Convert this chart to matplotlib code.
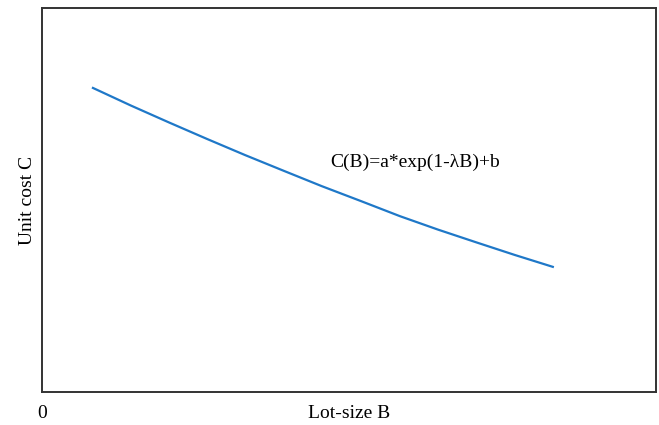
import matplotlib.pyplot as plt

# puntos (unidades arbitrarias, ejes 0..10)
lot_size = [0.83, 1.45, 2.07, 2.69, 3.31, 3.94, 4.56, 5.20, 5.83, 6.45, 7.07, 7.70, 8.32]
unit_cost = [7.92, 7.46, 7.02, 6.59, 6.17, 5.76, 5.36, 4.97, 4.58, 4.23, 3.90, 3.57, 3.26]

plt.rcParams['font.family'] = ['Liberation Serif', 'DejaVu Serif']

fig = plt.figure(figsize=(6.59, 4.25), dpi=100)
ax = fig.add_axes([0.0637, 0.0776, 0.9317, 0.9034])

ax.plot(lot_size, unit_cost, color='#1f78c8', linewidth=1.6)

ax.set_xlim(0, 10)
ax.set_ylim(0, 10)
ax.set_xticks([])
ax.set_yticks([])
for s in ax.spines.values():
    s.set_color('#333333')
    s.set_linewidth(1.4)

ax.text(4.69, 5.98, "C(B)=a*exp(1-λB)+b", fontsize=14, ha='left', va='center')
ax.text(0, -0.35, "0", fontsize=14, ha='center', va='top')
ax.set_xlabel("Lot-size B", fontsize=14, labelpad=9)
ax.set_ylabel("Unit cost C", fontsize=14, labelpad=4)

plt.savefig("out.png", dpi=100)
